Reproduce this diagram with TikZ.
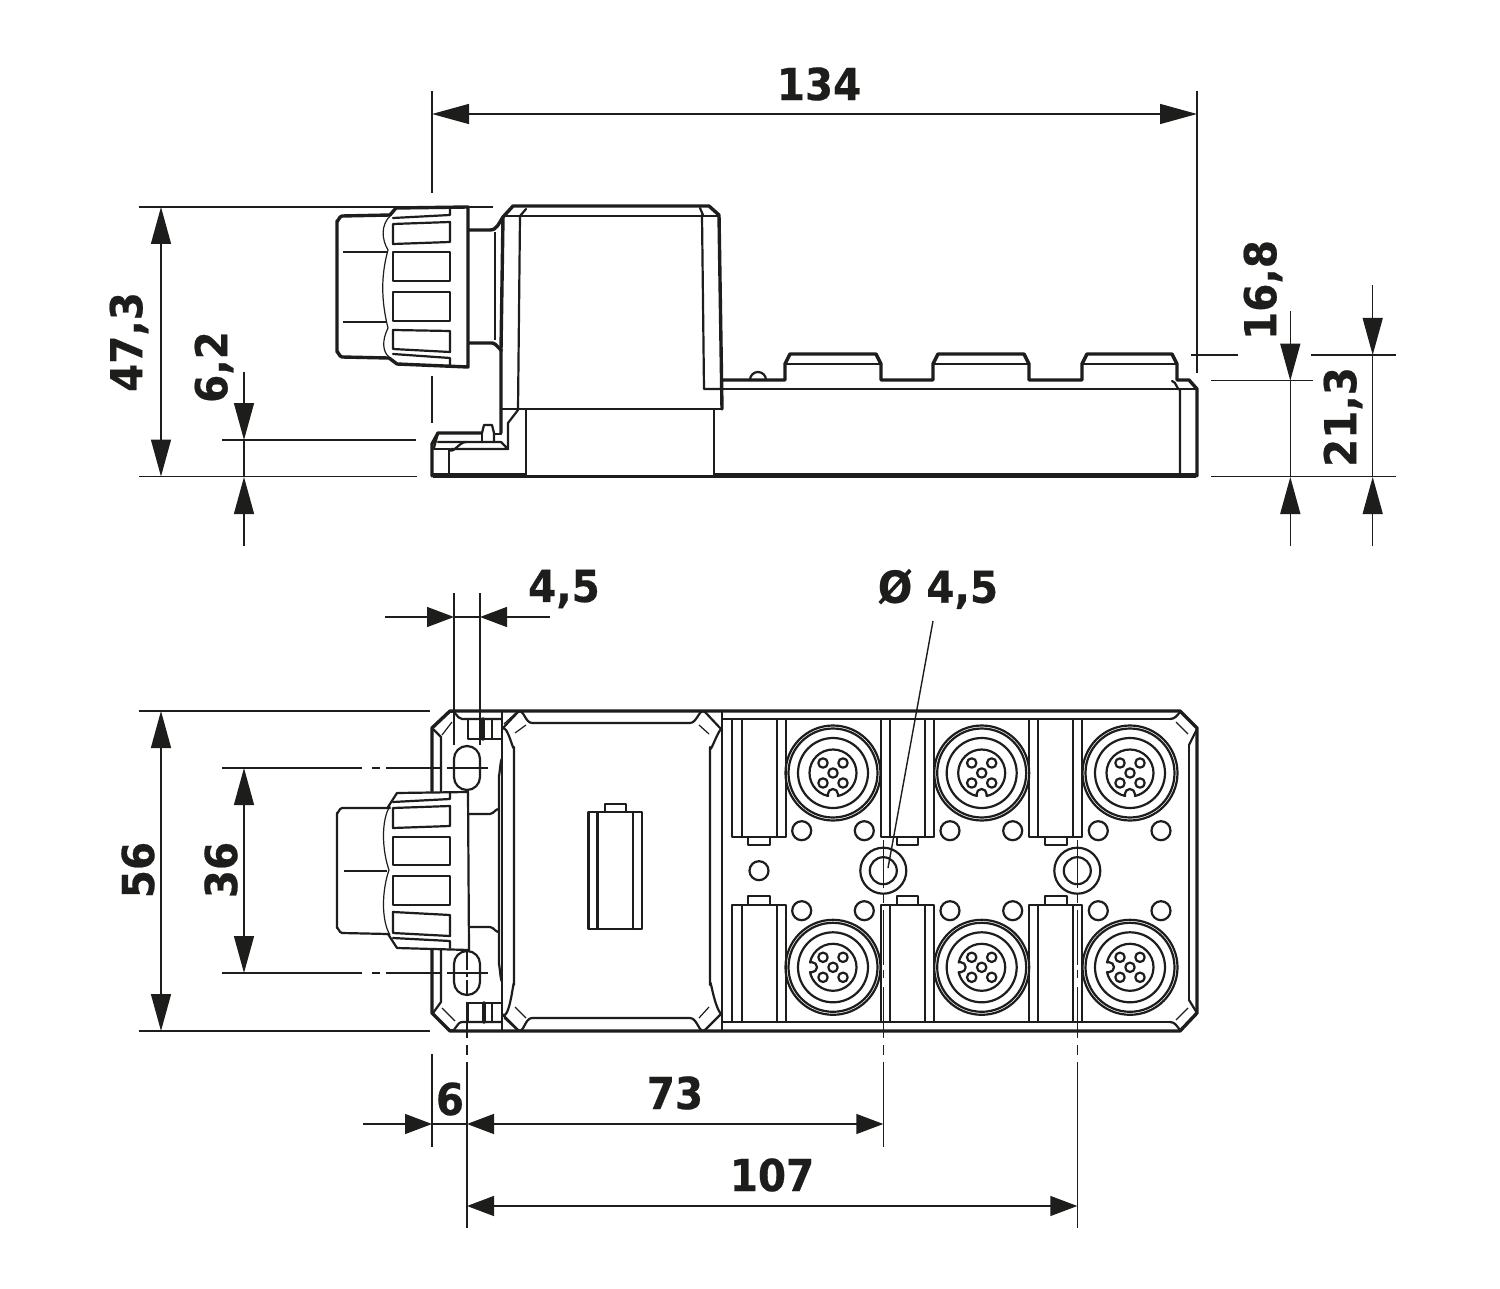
\documentclass[tikz,border=0pt]{standalone}
\usepackage{fontspec}
\newfontfamily\dimfont[BoldFeatures={FakeStretch=0.92,FakeBold=0.5}]{DejaVu Sans}
\usetikzlibrary{arrows.meta}
\definecolor{ink}{HTML}{1D1D1B}
\tikzset{
  thk/.style={line width=1.7pt,line join=round,line cap=round,draw=ink},
  med/.style={line width=1.1pt,line join=round,line cap=round,draw=ink},
  thn/.style={line width=.6pt,draw=ink},
  dimline/.style={line width=.7pt,draw=ink},
  longtip/.tip={Triangle[length=18.5pt,width=10pt,fill=ink]},
  shorttip/.tip={Triangle[length=13.5pt,width=10pt,fill=ink]},
  dimlong/.style={dimline,longtip-longtip},
  dimshort/.style={dimline,shorttip-shorttip},
  endlong/.style={dimline,-longtip},
  endshort/.style={dimline,-shorttip},
  lab/.style={font=\dimfont\fontsize{22}{22}\selectfont\bfseries,text=ink,inner sep=0pt},
  rlab/.style={lab,rotate=90}
}
\begin{document}
\begin{tikzpicture}[x=.5pt,y=-.5pt]
\useasboundingbox[fill=white] (0,0) rectangle (1500,1289);

% ---------- side view : knob ----------
\draw[thk] (390,215) -- (342,216) to[out=180,in=-90] (337,221) -- (337,352) to[out=90,in=180] (342,357) -- (388,358);
\draw[thk] (390,215) -- (396,208) -- (468,207) -- (468,367) -- (397,364) -- (389,358);
\foreach \ya/\yb/\yc/\yd in {224/222/242/244,252/252/281/281,292/292/321/321,330/331/352/349}
  \draw[med] (393,\ya) -- (450,\yb) -- (450,\yc) -- (393,\yd) -- cycle;
\draw[med] (393,218) -- (450,215) -- (450,209);
\draw[med] (393,354) -- (450,358) -- (450,366);
\draw[thn] (391,215) .. controls (380,225) and (382,240) .. (388,250) .. controls (381,275) and (381,300) .. (388,328) .. controls (382,340) and (382,352) .. (390,358);
\draw[thn] (343,252) -- (387,252);
\draw[thn] (343,322) -- (387,322);
% neck
\draw[thk] (469,230) -- (490,230) to[out=0,in=-125] (503,217) -- (513,206) -- (709,206) -- (719,215) -- (722,409);
\draw[thk] (469,343) -- (492,343) to[out=0,in=-60] (501,350);
\draw[thk] (503,217) -- (501,350) -- (501,433);
\draw[thn] (495,232) -- (495,340);
% housing
\draw[med] (520,216) -- (518,410);
\draw[med] (503,216) -- (718,216);
\draw[med] (520,216) -- (526,209);
\draw[med] (700,208) -- (703,215);
\draw[med] (702,215) -- (704,389) -- (722,389);
\draw[med] (501,409) -- (722,409);
\draw[med] (526,410) -- (526,476);
\draw[med] (714,410) -- (714,476);
% foot
\draw[thk] (432,476) -- (432,444) -- (438,433) -- (481,433);
\draw[med] (482,433) -- (484,425) -- (492,425) -- (494,433) -- (494,442);
\draw[med] (482,433) -- (482,442);
\draw[med] (494,434) -- (501,434);
\draw[med] (438,433) -- (434,448);
\draw[med] (438,442) -- (468,442) -- (501,442) -- (508,449) -- (451,449);
\draw[med] (434,449) -- (449,449) -- (449,474);
\draw[med] (449,449) to[out=-60,in=180] (466,442);
\draw[med] (508,449) -- (508,423) -- (518,410);
% bottom thick
\fill[ink] (433,473) rectangle (526,477.5);
\fill[ink] (714,472.5) rectangle (1196,477.5);
\draw[med] (526,476.5) -- (714,476.5);
% right part side view
\draw[thk] (722,380) -- (785,380) -- (785,364) -- (790,354) -- (876,354) -- (881,364) -- (881,380)
  -- (933,380) -- (933,364) -- (938,354) -- (1024,354) -- (1029,364) -- (1029,380)
  -- (1082,380) -- (1082,364) -- (1087,354) -- (1172,354) -- (1177,364) -- (1177,380)
  -- (1189,380) -- (1197,389) -- (1197,476);
\draw[med] (750,380) arc[start angle=180,end angle=360,radius=8];
\foreach \xa/\xb in {785/881,933/1029,1082/1177}{
  \draw[med] (\xa,364) -- (\xb,364);
}
\draw[med] (722,389) -- (1197,389);
\draw[med] (1172,381) to[out=0,in=-120] (1180,389) -- (1180,474);

% ---------- plan view ----------
\draw[thk] (432,791) -- (432,728) -- (450,711) -- (1180,711) -- (1197,728) -- (1197,1013) -- (1180,1031) -- (450,1031) -- (432,1013) -- (432,950);
\draw[med] (433,729) -- (441,737) -- (441,792);
\draw[med] (441,950) -- (441,1002) -- (433,1013);
\draw[med] (451,712) to[out=60,in=180] (462,719) -- (502,719);
\draw[med] (451,1030) to[out=-60,in=180] (462,1022) -- (502,1022);
\draw[thn] (442,735) -- (452,722);
\draw[thn] (442,1008) -- (455,1021);
% clips
\draw[med] (468,719) -- (468,739) -- (502,739);
\draw[thk] (483,719) -- (483,739);
\draw[med] (492,719) -- (492,739);
\draw[med] (468,1022) -- (468,1003) -- (502,1003);
\draw[thk] (484,1003) -- (484,1022);
\draw[med] (492,1003) -- (492,1022);
% slotted holes
\draw[med] (454,759) arc[start angle=180,end angle=360,radius=13] -- (480,777) arc[start angle=0,end angle=180,radius=13] -- cycle;
\draw[med] (454,964) arc[start angle=180,end angle=360,radius=13] -- (480,982) arc[start angle=0,end angle=180,radius=13] -- cycle;
% separating lines
\draw[med] (502,711) -- (502,1031);
\draw[med] (502,760) to[out=100,in=-90] (499,775) -- (499,965) to[out=90,in=-100] (502,980);
\draw[med] (722,711) -- (722,1031);
% housing chamfered panel
\draw[med] (502,729) -- (518,712) to[out=40,in=180] (532,723) -- (690,723) to[out=0,in=140] (705,712) -- (721,729) to[out=-130,in=-90] (710,747) -- (710,985) to[out=90,in=130] (721,1014) -- (705,1030) to[out=-140,in=0] (690,1018) -- (532,1018) to[out=180,in=-40] (518,1030) -- (502,1014) to[out=-50,in=90] (514,985) -- (514,747) to[out=-90,in=50] (502,729) -- cycle;
\draw[thn] (515,733) -- (526,725);
\draw[thn] (699,725) -- (709,734);
\draw[thn] (515,1007) -- (526,1018);
\draw[thn] (699,1018) -- (709,1007);
\draw[thn] (504,724) -- (517,712);
\draw[thn] (504,1018) -- (517,1030);
% battery
\draw[med] (588.5,812) rectangle (642,929);
\draw[med] (597.5,812) -- (597.5,929);
\draw[med] (633,812) -- (633,929);
\draw[med] (605,812) -- (605,804) -- (626,804) -- (626,812);
% plan knob
\draw[med] (390,808) -- (342,808) to[out=180,in=-90] (337,813) -- (337,928) to[out=90,in=180] (342,933) -- (388,934);
\draw[med] (388,807) -- (397,793) -- (468,792) -- (469,950) -- (397,948) -- (388,934);
\foreach \ya/\yb/\yc/\yd in {808/806/826/828,837/837/865/865,876/876/905/905,912/915/936/933}
  \draw[med] (393,\ya) -- (450,\yb) -- (450,\yc) -- (393,\yd) -- cycle;
\draw[med] (393,802) -- (450,799) -- (450,793);
\draw[med] (393,938) -- (450,941) -- (450,948);
\draw[thn] (390,806) .. controls (381,820) and (382,850) .. (389,870) .. controls (382,890) and (381,920) .. (390,935);
\draw[thn] (344,871) -- (387,871);
\draw[med] (469,814) -- (490,814) to[out=0,in=120] (499,810);
\draw[med] (469,927) -- (490,927) to[out=0,in=-120] (499,931);

% terminal blocks
\foreach \xa/\xb/\xc/\xd/\xe/\xf in {732.3/741.7/776.7/785.7/748/770,880.7/890/925/934/897/918,1029/1038/1073/1082/1045/1067}{
  \draw[med] (\xa,719) -- (\xa,837) -- (\xd,837) -- (\xd,719);
  \draw[med] (\xb,719) -- (\xb,837);
  \draw[med] (\xc,719) -- (\xc,837);
  \draw[med] (\xe,837) -- (\xe,845) -- (\xf,845) -- (\xf,837);
  \draw[med] (\xa,1022) -- (\xa,905) -- (\xd,905) -- (\xd,1022);
  \draw[med] (\xb,905) -- (\xb,1022);
  \draw[med] (\xc,905) -- (\xc,1022);
  \draw[med] (\xe,905) -- (\xe,896) -- (\xf,896) -- (\xf,905);
}
% M12 connectors
\foreach \cx in {833,981.7,1130}{
  \foreach \cy/\nt in {773/0,967.3/1}{
    \foreach \r in {47.5,44.5,35}
      \draw[med] (\cx,\cy) circle[radius=\r];
    \foreach \dx/\dy in {-10/-10,10/-10,0/0,-10/10,10/10}
      \draw[med] (\cx+\dx,\cy+\dy) circle[radius=4.7];
    \ifnum\nt=0
      \draw[med] (\cx,\cy) ++(102:23.5) arc[start angle=102,end angle=438,radius=23.5] -- ++(0,-2) arc[start angle=0,end angle=-180,radius=5] -- cycle;
    \else
      \draw[med] (\cx,\cy) ++(192:23.5) arc[start angle=192,end angle=528,radius=23.5] -- ++(2,0) arc[start angle=90,end angle=-90,radius=5] -- cycle;
    \fi
  }
}
% small holes
\foreach \hx in {801.7,864.3,950,1012.7,1098.3,1161}{
  \draw[med] (\hx,830.7) circle[radius=9.5];
  \draw[med] (\hx,910.7) circle[radius=9.5];
}
\draw[med] (759,870.7) circle[radius=9.5];
% mounting holes
\foreach \hx in {883.3,1077.3}{
  \draw[med] (\hx,870.7) circle[radius=23];
  \draw[med] (\hx,870.7) circle[radius=13.5];
}
\draw[med] (1189,1000) -- (1189,745);
\draw[med] (1170,719) to[out=0,in=-130] (1180,712);
\draw[med] (722,719) -- (1170,719);
\draw[med] (1170,1022) to[out=0,in=130] (1180,1030);
\draw[med] (722,1022) -- (1170,1022);
\draw[med] (1197,729) -- (1189,745);
\draw[med] (1189,1000) -- (1197,1013);
\draw[thn] (1176,722) -- (1188,734);
\draw[thn] (1176,1020) -- (1188,1008);

% ---------- dimensions ----------
\draw[dimlong] (432,114) -- (1197,114);
\draw[dimline] (432,91) -- (432,193);
\draw[dimline] (432,376) -- (432,423);
\draw[dimline] (1197,91) -- (1197,373);
\node[lab] (d134) at (819,84) {134};

\draw[dimlong] (161,207) -- (161,476.5);
\draw[dimline] (139,207) -- (493,207);
\draw[dimline] (139,476.5) -- (417,476.5);
\node[rlab] (d473) at (129,342) {47,3};

\draw[dimline] (222,440) -- (416,440);
\draw[dimline] (244,440) -- (244,477);
\draw[endlong] (244,372) -- (244,440);
\draw[endlong] (244,546) -- (244,477);
\node[rlab] (d62) at (214,367) {6,2};

\draw[dimline] (1191,355) -- (1238,355);
\draw[dimline] (1211,380.7) -- (1313,380.7);
\draw[dimline] (1290.3,380) -- (1290.3,477);
\draw[endlong] (1290.3,311) -- (1290.3,380.7);
\draw[endlong] (1290.3,546) -- (1290.3,477);
\node[rlab] (d168) at (1263,290) {16,8};

\draw[dimline] (1311,355) -- (1396,355);
\draw[dimline] (1211,476.7) -- (1396,476.7);
\draw[dimline] (1372.7,355) -- (1372.7,477);
\draw[endlong] (1372.7,285) -- (1372.7,355);
\draw[endlong] (1372.7,546) -- (1372.7,477);
\node[rlab] (d213) at (1343,417) {21,3};

\draw[dimline] (454,617) -- (480,617);
\draw[endshort] (385,617) -- (438,617) -- (454,617);
\draw[endshort] (550,617) -- (500,617) -- (480,617);
\draw[dimline] (454,593) -- (454,745);
\draw[dimline] (480,593) -- (480,745);
\node[lab] (d45) at (564,589) {4,5};

\node[lab] (dphi) at (938,589) {Ø 4,5};
\draw[dimline] (933,621) -- (888,868);

\draw[dimlong] (161,711) -- (161,1031);
\draw[dimline] (139,711) -- (430,711);
\draw[dimline] (139,1031) -- (430,1031);
\node[rlab] (d56) at (138,870) {56};

\draw[dimlong] (244,768) -- (244,973);
\foreach \yy in {768,973}{
  \draw[dimline] (222,\yy) -- (362,\yy);
  \draw[dimline] (372,\yy) -- (380,\yy);
  \draw[dimline] (386,\yy) -- (440,\yy);
  \draw[dimline] (447,\yy) -- (488,\yy);
}
\node[rlab] (d36) at (221,870) {36};

% centre lines
\draw[dimline] (467,952) -- (467,970);
\draw[dimline] (467,972) -- (467,977);
\draw[dimline] (467,980) -- (467,995);
\draw[dimline] (467,1002) -- (467,1038);
\draw[dimline] (467,1045) -- (467,1055);
\draw[dimline] (467,1062) -- (467,1228);

\foreach \xx/\yend in {883.3/1147,1077.3/1228}{
  \draw[dimline] (\xx,840) -- (\xx,888);
  \draw[dimline] (\xx,895) -- (\xx,903);
  \draw[dimline] (\xx,910) -- (\xx,965);
  \draw[dimline] (\xx,970) -- (\xx,978);
  \draw[dimline] (\xx,987) -- (\xx,1038);
  \draw[dimline] (\xx,1045) -- (\xx,1055);
  \draw[dimline] (\xx,1062) -- (\xx,\yend);
}

\draw[dimline] (432,1054) -- (432,1147);
\draw[dimline] (432,1124) -- (467,1124);
\draw[endshort] (363,1124) -- (432,1124);
\node[lab] (d6) at (450,1099) {6};
\draw[dimshort] (467,1124) -- (883.3,1124);
\node[lab] (d73) at (675,1093) {73};
\draw[dimshort] (467,1206) -- (1077.3,1206);
\node[lab] (d107) at (772,1175) {107};
\end{tikzpicture}
\end{document}
